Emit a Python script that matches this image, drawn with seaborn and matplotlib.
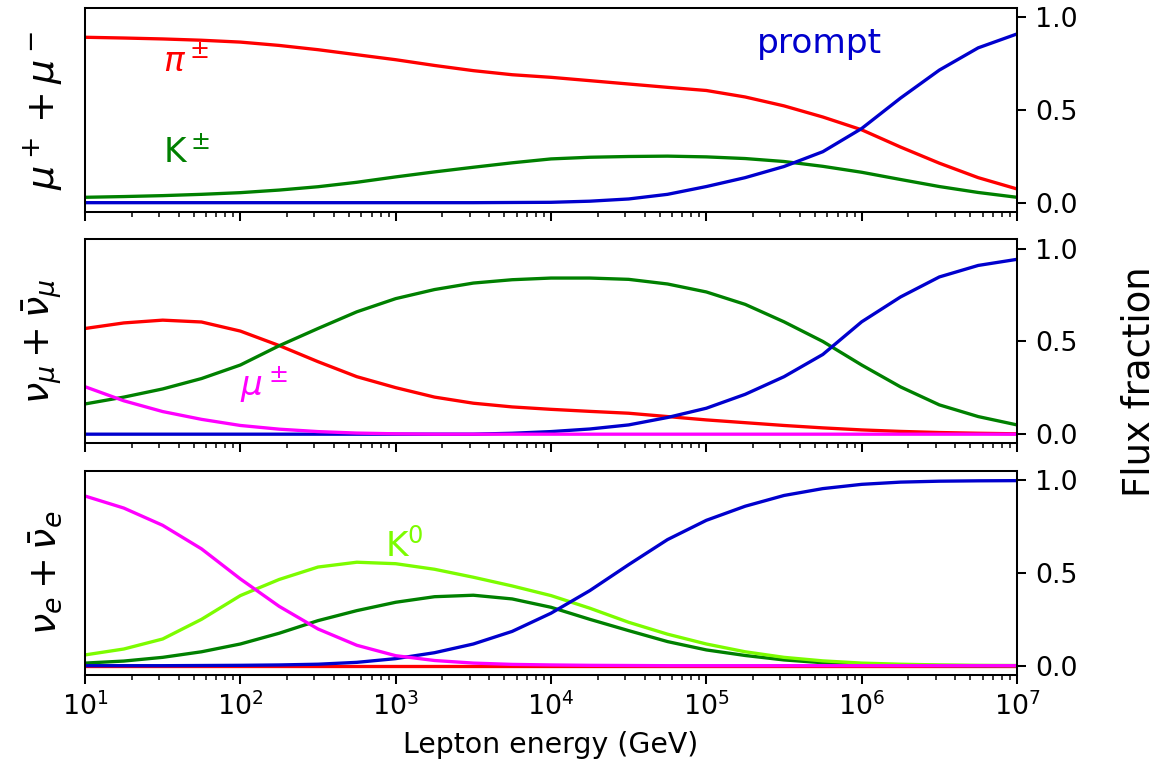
import numpy as np
import pandas as pd
import matplotlib
matplotlib.use("Agg")
import matplotlib.pyplot as plt
import seaborn as sns

# energy grid (log10 of lepton energy in GeV)
energy_log10 = [1.0, 1.25, 1.5, 1.75, 2.0, 2.25, 2.5, 2.75, 3.0, 3.25, 3.5, 3.75, 4.0,
                4.25, 4.5, 4.75, 5.0, 5.25, 5.5, 5.75, 6.0, 6.25, 6.5, 6.75, 7.0]
major_ticks = [1e1, 1e2, 1e3, 1e4, 1e5, 1e6, 1e7]

# muons
mu_pion = [0.892, 0.888, 0.883, 0.876, 0.866, 0.848, 0.825, 0.798, 0.771, 0.740, 0.712, 0.690, 0.676,
           0.658, 0.640, 0.622, 0.605, 0.570, 0.522, 0.462, 0.393, 0.300, 0.213, 0.135, 0.074]
mu_kaon = [0.029, 0.033, 0.038, 0.045, 0.054, 0.068, 0.086, 0.110, 0.139, 0.166, 0.191, 0.215, 0.236,
           0.245, 0.249, 0.251, 0.247, 0.238, 0.222, 0.196, 0.164, 0.125, 0.087, 0.055, 0.029]
mu_prompt = [0.0, 0.0, 0.0, 0.0, 0.0, 0.0, 0.0, 0.0, 0.0, 0.0, 0.0, 0.001, 0.002,
             0.008, 0.020, 0.045, 0.087, 0.135, 0.195, 0.275, 0.400, 0.564, 0.715, 0.835, 0.910]

# muon neutrinos
numu_pion = [0.570, 0.600, 0.615, 0.605, 0.556, 0.478, 0.391, 0.310, 0.251, 0.200, 0.167, 0.147, 0.134,
             0.123, 0.113, 0.095, 0.077, 0.062, 0.047, 0.034, 0.023, 0.015, 0.009, 0.005, 0.002]
numu_kaon = [0.163, 0.200, 0.244, 0.300, 0.373, 0.477, 0.570, 0.660, 0.731, 0.780, 0.815, 0.833, 0.842,
             0.842, 0.835, 0.810, 0.767, 0.700, 0.606, 0.500, 0.373, 0.255, 0.158, 0.095, 0.050]
numu_prompt = [0.0, 0.0, 0.0, 0.0, 0.0, 0.0, 0.0, 0.0, 0.0, 0.0, 0.0, 0.005, 0.014,
               0.028, 0.050, 0.090, 0.140, 0.215, 0.310, 0.430, 0.606, 0.740, 0.848, 0.910, 0.943]
numu_muon = [0.256, 0.180, 0.122, 0.080, 0.047, 0.027, 0.014, 0.006, 0.002, 0.0, 0.0, 0.0, 0.0,
             0.0, 0.0, 0.0, 0.0, 0.0, 0.0, 0.0, 0.0, 0.0, 0.0, 0.0, 0.0]

# electron neutrinos
nue_pion = [0.0] * 25
nue_kaon = [0.014, 0.025, 0.045, 0.075, 0.117, 0.175, 0.243, 0.297, 0.342, 0.372, 0.380, 0.360, 0.315,
            0.250, 0.189, 0.130, 0.085, 0.055, 0.031, 0.016, 0.007, 0.003, 0.001, 0.0, 0.0]
nue_k0 = [0.058, 0.090, 0.144, 0.250, 0.378, 0.465, 0.532, 0.558, 0.550, 0.520, 0.477, 0.430, 0.378,
          0.310, 0.234, 0.170, 0.117, 0.075, 0.045, 0.026, 0.014, 0.008, 0.004, 0.002, 0.001]
nue_prompt = [0.0, 0.0, 0.0, 0.001, 0.002, 0.004, 0.008, 0.018, 0.038, 0.070, 0.117, 0.185, 0.283,
              0.405, 0.545, 0.680, 0.784, 0.860, 0.918, 0.955, 0.978, 0.990, 0.995, 0.997, 0.998]
nue_muon = [0.915, 0.850, 0.757, 0.630, 0.468, 0.320, 0.198, 0.110, 0.054, 0.028, 0.014, 0.007, 0.004,
            0.002, 0.001, 0.0, 0.0, 0.0, 0.0, 0.0, 0.0, 0.0, 0.0, 0.0, 0.0]

panel_labels = [r"$\mu^+ + \mu^-$", r"$\nu_\mu + \bar{\nu}_\mu$", r"$\nu_e + \bar{\nu}_e$"]
source_order = ["pion", "kaon", "k0", "prompt", "muon"]
colors = {"pion": "red", "kaon": "green", "k0": "#7CFC00", "prompt": "#0000CD", "muon": "magenta"}


def make_frame(series):
    energy = 10 ** np.array(energy_log10)
    parts = [pd.DataFrame({"energy": energy, "fraction": vals, "source": name})
             for name, vals in series.items()]
    return pd.concat(parts, ignore_index=True)


panels = [
    make_frame({"pion": mu_pion, "kaon": mu_kaon, "prompt": mu_prompt}),
    make_frame({"pion": numu_pion, "kaon": numu_kaon, "prompt": numu_prompt, "muon": numu_muon}),
    make_frame({"pion": nue_pion, "kaon": nue_kaon, "k0": nue_k0, "prompt": nue_prompt, "muon": nue_muon}),
]

sns.set_style("ticks", {"axes.edgecolor": "black", "xtick.color": "black", "ytick.color": "black",
                        "text.color": "black", "axes.labelcolor": "black"})
plt.rcParams["font.family"] = ["DejaVu Sans"]
plt.rcParams["xtick.labelsize"] = 10.5
plt.rcParams["ytick.labelsize"] = 10.5

dpi = 183
fig, axes = plt.subplots(3, 1, sharex=True, figsize=(1171 / dpi, 767 / dpi), dpi=dpi)
fig.subplots_adjust(left=0.0726, right=0.8685, top=0.9896, bottom=0.12, hspace=0.135)

for ax, df, label in zip(axes, panels, panel_labels):
    order = [s for s in source_order if s in df["source"].unique()]
    sns.lineplot(data=df, x="energy", y="fraction", hue="source", hue_order=order,
                 palette=colors, legend=False, linewidth=1.3, ax=ax)
    ax.set_xscale("log")
    ax.set_xticks(major_ticks)
    ax.set_xlim(10, 1e7)
    ax.set_ylim(-0.05, 1.05)
    ax.set_yticks([0.0, 0.5, 1.0])
    ax.yaxis.tick_right()
    ax.yaxis.set_label_position("left")
    ax.set_ylabel(label, fontsize=15, labelpad=8)
    ax.set_xlabel("")
    ax.tick_params(axis="x", which="both", top=False)

# source annotations
axes[0].text(31.6, 0.76, r"$\pi^\pm$", color="red", fontsize=13.5, va="center")
axes[0].text(31.6, 0.27, r"K$^\pm$", color="green", fontsize=13.5, va="center")
axes[0].text(2.1e5, 0.86, "prompt", color="#0000CD", fontsize=13.5, va="center")
axes[1].text(100, 0.265, r"$\mu^\pm$", color="magenta", fontsize=13.5, va="center")
axes[2].text(850, 0.65, r"K$^0$", color="#7CFC00", fontsize=13.5, va="center")

axes[2].set_xlabel("Lepton energy (GeV)", fontsize=11.2)
fig.text(0.973, 0.503, "Flux fraction", rotation=90, ha="center", va="center", fontsize=14.5)

fig.savefig("out.png", dpi=dpi)
